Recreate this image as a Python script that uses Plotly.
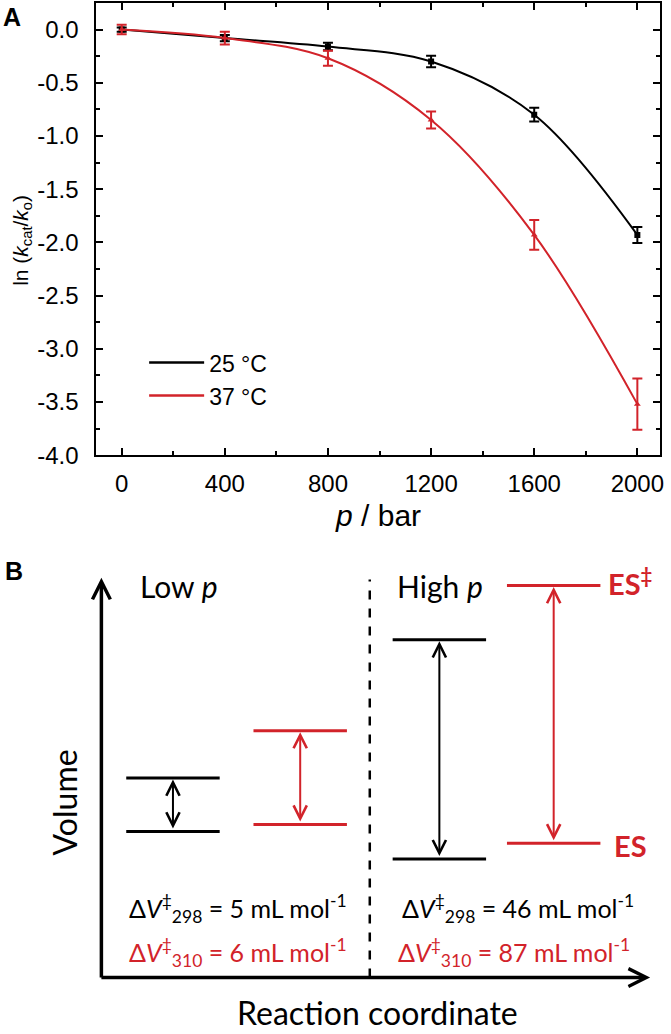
import plotly.graph_objects as go

W, H = 671, 1034
RED = "#d2232a"
BLACK = "#000000"

# ---------------- Panel A data ----------------
pressure = [0, 400, 800, 1200, 1600, 2000]
ln_ratio_25 = [0.0, -0.08, -0.16, -0.30, -0.80, -1.93]
err_25 = [0.02, 0.03, 0.035, 0.055, 0.065, 0.075]
ln_ratio_37 = [0.0, -0.08, -0.27, -0.85, -1.93, -3.52]
err_37 = [0.045, 0.06, 0.07, 0.08, 0.14, 0.24]
series_names = ["25 °C", "37 °C"]
x_ticks = [0, 400, 800, 1200, 1600, 2000]
y_ticks = [0.0, -0.5, -1.0, -1.5, -2.0, -2.5, -3.0, -3.5, -4.0]

# ---------------- Panel B (schematic) data ----------------
state_coord = [72, 200, 340, 455]          # reaction-coordinate position of each pair
state_color = [BLACK, RED, BLACK, RED]
es_volume = [148, 155, 120, 136]            # ES level
ts_volume = [202, 250, 342, 397]            # ES‡ level
level_half_width = 47
dv_temps = ["298", "310", "298", "310"]
dv_values = ["5", "6", "46", "87"]
dv_text_x = [137, 137, 419, 415]
dv_text_y = [70, 25, 70, 25]


def px_x(p):
    return p / W


def px_y(p):
    return 1 - p / H


fig = go.Figure()

# Panel A traces
for ys, es, col, sym, nm in [
    (ln_ratio_25, err_25, BLACK, "square", series_names[0]),
    (ln_ratio_37, err_37, RED, "triangle-up", series_names[1]),
]:
    fig.add_trace(go.Scatter(
        x=pressure, y=ys, mode="lines+markers", name=nm, showlegend=False,
        line=dict(color=col, width=2, shape="spline", smoothing=1.0),
        marker=dict(symbol=sym, size=6, color=col),
        error_y=dict(type="data", array=es, visible=True, color=col,
                     thickness=2, width=5),
        xaxis="x", yaxis="y",
    ))
    fig.add_trace(go.Scatter(
        x=[None], y=[None], mode="lines", name=nm, showlegend=True,
        line=dict(color=col, width=2.5), xaxis="x", yaxis="y",
    ))

# Panel B: level lines
for i, c in enumerate(state_coord):
    for v in (es_volume[i], ts_volume[i]):
        fig.add_trace(go.Scatter(
            x=[c - level_half_width, c + level_half_width], y=[v, v],
            mode="lines", line=dict(color=state_color[i], width=3),
            showlegend=False, hoverinfo="skip", xaxis="x2", yaxis="y2",
        ))

# dashed separator between low and high pressure
fig.add_trace(go.Scatter(
    x=[270, 270], y=[0, 403], mode="lines",
    line=dict(color=BLACK, width=2.5, dash="dash"),
    showlegend=False, hoverinfo="skip", xaxis="x2", yaxis="y2",
))

annotations = []

# double-headed arrows between levels
for i, c in enumerate(state_coord):
    annotations.append(dict(
        x=c, y=ts_volume[i], ax=c, ay=es_volume[i],
        xref="x2", yref="y2", axref="x2", ayref="y2",
        text="", showarrow=True, arrowside="end+start",
        arrowhead=5, startarrowhead=5, arrowsize=1.3, startarrowsize=1.3,
        arrowwidth=2, arrowcolor=state_color[i], standoff=1.5, startstandoff=1.5,
    ))

# axis arrows of the schematic
annotations.append(dict(x=0, y=405, ax=0, ay=-1.5, xref="x2", yref="y2",
                        axref="x2", ayref="y2", text="", showarrow=True,
                        arrowhead=5, arrowsize=1.0, arrowwidth=3.5, arrowcolor=BLACK))
annotations.append(dict(x=552, y=0, ax=-1.5, ay=0, xref="x2", yref="y2",
                        axref="x2", ayref="y2", text="", showarrow=True,
                        arrowhead=5, arrowsize=1.0, arrowwidth=3.5, arrowcolor=BLACK))

BFONT = "Lato"
annotations += [
    dict(x=37, y=397, xref="x2", yref="y2", text="Low <i>p</i>", showarrow=False,
         xanchor="left", yanchor="middle", font=dict(family=BFONT, size=30, color=BLACK)),
    dict(x=295, y=397, xref="x2", yref="y2", text="High <i>p</i>", showarrow=False,
         xanchor="left", yanchor="middle", font=dict(family=BFONT, size=30, color=BLACK)),
    dict(x=508, y=401, xref="x2", yref="y2", text="<b>ES<sup>‡</sup></b>", showarrow=False,
         xanchor="left", yanchor="middle", font=dict(family=BFONT, size=29, color=RED)),
    dict(x=514, y=134, xref="x2", yref="y2", text="<b>ES</b>", showarrow=False,
         xanchor="left", yanchor="middle", font=dict(family=BFONT, size=29, color=RED)),
    dict(x=278, y=-35, xref="x2", yref="y2", text="Reaction coordinate", showarrow=False,
         xanchor="center", yanchor="middle", font=dict(family=BFONT, size=32, color=BLACK)),
    dict(x=-37, y=177, xref="x2", yref="y2", text="Volume", showarrow=False,
         xanchor="center", yanchor="middle",
         textangle=-90, font=dict(family=BFONT, size=32, color=BLACK)),
]
for i in range(4):
    annotations.append(dict(
        x=dv_text_x[i], y=dv_text_y[i], xref="x2", yref="y2", showarrow=False,
        xanchor="center", yanchor="middle",
        text=f"Δ<i>V</i><sup>‡</sup><sub>{dv_temps[i]}</sub> = {dv_values[i]} mL mol<sup>-1</sup>",
        font=dict(family=BFONT, size=25, color=state_color[i]),
    ))

# Panel labels and panel A axis titles
AFONT = "Liberation Sans"
annotations += [
    dict(x=px_x(12), y=px_y(17), xref="paper", yref="paper", text="<b>A</b>",
         xanchor="center", yanchor="middle",
         showarrow=False, font=dict(family=AFONT, size=25, color=BLACK)),
    dict(x=px_x(14), y=px_y(578), xref="paper", yref="paper", text="<b>B</b>",
         xanchor="center", yanchor="middle",
         showarrow=False, font=dict(family=AFONT, size=25, color=BLACK)),
    dict(x=px_x(22), y=px_y(243), xref="paper", yref="paper",
         text="ln (<i>k</i><sub>cat</sub>/<i>k</i><sub>o</sub>)", textangle=-90,
         xanchor="center", yanchor="middle",
         showarrow=False, font=dict(family=AFONT, size=21, color=BLACK)),
    dict(x=px_x(380), y=px_y(522), xref="paper", yref="paper",
         text="<i>p</i> / bar", showarrow=False, xanchor="center", yanchor="middle",
         font=dict(family=AFONT, size=30, color=BLACK)),
]

axis_common = dict(showline=True, linecolor=BLACK, linewidth=2, mirror="ticks",
                   ticks="inside", ticklen=7, tickwidth=1.5, tickcolor=BLACK,
                   showgrid=False, zeroline=False,
                   tickfont=dict(family=AFONT, size=24, color=BLACK))

fig.update_layout(
    width=W, height=H, autosize=False,
    margin=dict(l=0, r=0, t=0, b=0),
    paper_bgcolor="white", plot_bgcolor="white",
    font=dict(family=AFONT, color=BLACK),
    xaxis=dict(domain=[px_x(97), px_x(664)], range=[-98, 2088], anchor="y",
               tickvals=x_ticks, ticktext=[str(v) for v in x_ticks],
               minor=dict(dtick=200, ticks="inside", ticklen=4, tickwidth=1.5,
                          tickcolor=BLACK, showgrid=False),
               ticklabelstandoff=6, **axis_common),
    yaxis=dict(domain=[px_y(461), px_y(3)], range=[-4.0, 0.25], anchor="x",
               tickvals=y_ticks, ticktext=[f"{v:.1f}" for v in y_ticks],
               minor=dict(dtick=0.25, tick0=0, ticks="inside", ticklen=4, tickwidth=1.5,
                          tickcolor=BLACK, showgrid=False),
               ticklabelstandoff=11, **axis_common),
    xaxis2=dict(domain=[0, 1], range=[-102, 569], anchor="y2", visible=False),
    yaxis2=dict(domain=[0, px_y(540)], range=[990 - 1034, 990 - 540], anchor="x2",
                visible=False),
    legend=dict(x=px_x(145), y=px_y(384), xanchor="left", yanchor="middle",
                font=dict(family=AFONT, size=23, color=BLACK), itemwidth=55,
                bgcolor="rgba(0,0,0,0)", tracegroupgap=0),
    annotations=annotations,
    showlegend=True,
)

fig.write_html(
    "out.html",
    config={"displayModeBar": False},
    post_script="document.body.style.margin='0';document.body.style.overflow='hidden';",
)
